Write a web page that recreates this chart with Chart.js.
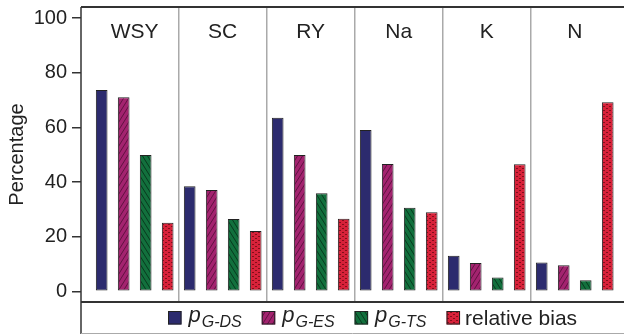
<!DOCTYPE html>
<html>
<head>
<meta charset="utf-8">
<script src="https://cdn.jsdelivr.net/npm/chart.js@4.4.1/dist/chart.umd.min.js"></script>
<style>
  html, body { margin: 0; padding: 0; background: #fff; }
  #wrap { width: 624px; height: 336px; }
</style>
</head>
<body>
<div id="wrap"><canvas id="c" width="624" height="336"></canvas></div>
<script>
// Nutrient / site panels and the four series plotted in each
const categories = ['WSY', 'SC', 'RY', 'Na', 'K', 'N'];
const pGDS = [73.7, 38.5, 63.6, 59.1, 13.0, 10.6];
const pGES = [71.1, 37.1, 49.9, 46.6, 10.4, 9.6];
const pGTS = [49.9, 26.5, 35.9, 30.6, 5.1, 4.1];
const relativeBias = [25.1, 22.1, 26.6, 29.0, 46.5, 69.2];
const yTicks = [0, 20, 40, 60, 80, 100];
const seriesNames = ['pG-DS', 'pG-ES', 'pG-TS', 'relative bias'];
const legendMain = ['p', 'p', 'p', 'relative bias'];
const legendSub = ['G-DS', 'G-ES', 'G-TS', ''];

const FONT = '"Liberation Sans", Arial, Helvetica, sans-serif';

function makePattern(w, h, base, draw) {
  const c = document.createElement('canvas');
  c.width = w; c.height = h;
  const g = c.getContext('2d');
  g.fillStyle = base;
  g.fillRect(0, 0, w, h);
  draw(g);
  return g.createPattern(c, 'repeat');
}

const fillBlue = '#2c2b6e';
// steep "/" hatching
const fillPink = makePattern(5, 8, '#a3236f', g => {
  g.strokeStyle = 'rgba(70,10,45,0.7)';
  g.lineWidth = 1;
  g.beginPath();
  g.moveTo(0, 8); g.lineTo(5, 0);
  g.moveTo(-1, 1.6); g.lineTo(1, -1.6);
  g.moveTo(4, 9.6); g.lineTo(6, 6.4);
  g.stroke();
});
// steep "\" hatching
const fillGreen = makePattern(5, 8, '#12703d', g => {
  g.strokeStyle = 'rgba(5,40,20,0.75)';
  g.lineWidth = 1;
  g.beginPath();
  g.moveTo(0, 0); g.lineTo(5, 8);
  g.moveTo(-1, 6.4); g.lineTo(1, 9.6);
  g.moveTo(4, -1.6); g.lineTo(6, 1.6);
  g.stroke();
});
// brick-like dotted fill
const fillRed = makePattern(6, 4, '#d8223a', g => {
  g.fillStyle = 'rgba(110,10,20,0.8)';
  g.fillRect(0, 0, 2, 1);
  g.fillRect(3, 2, 2, 1);
});
const fills = [fillBlue, fillPink, fillGreen, fillRed];
const seriesValues = [pGDS, pGES, pGTS, relativeBias];

const datasets = seriesValues.map((vals, s) => ({
  label: seriesNames[s],
  data: vals.map((v, i) => ({ x: i, y: v })),
  backgroundColor: fills[s],
  borderColor: '#222',
  borderWidth: 1,
  borderSkipped: false,
  categoryPercentage: 1.0,
  barPercentage: 0.53
}));

// Frame, panel names and the legend strip below the plot
const decor = {
  id: 'decor',
  afterDraw(chart) {
    const ctx = chart.ctx;
    const a = chart.chartArea;
    const xs = chart.scales.x;
    const W = chart.width;
    ctx.save();

    // panel headings
    ctx.fillStyle = '#222';
    ctx.font = '21px ' + FONT;
    ctx.textAlign = 'center';
    ctx.textBaseline = 'alphabetic';
    categories.forEach((c, i) => {
      ctx.fillText(c, xs.getPixelForValue(i), a.top + 31);
    });

    // frame lines
    ctx.strokeStyle = '#333';
    ctx.lineWidth = 2;
    ctx.beginPath();
    ctx.moveTo(a.left, a.top); ctx.lineTo(W, a.top);
    ctx.moveTo(a.left, a.bottom); ctx.lineTo(W, a.bottom);
    ctx.stroke();
    ctx.lineWidth = 1.5;
    ctx.beginPath();
    ctx.moveTo(a.left, a.top); ctx.lineTo(a.left, chart.height - 2);
    ctx.stroke();
    ctx.strokeStyle = '#aaa';
    ctx.lineWidth = 1;
    ctx.beginPath();
    ctx.moveTo(a.left, chart.height - 2.5); ctx.lineTo(W, chart.height - 2.5);
    ctx.stroke();

    // legend
    let x = 168;
    const boxTop = 311, box = 13.5, base = 325;
    for (let s = 0; s < 4; s++) {
      ctx.fillStyle = fills[s];
      ctx.fillRect(x, boxTop, box, box);
      ctx.strokeStyle = '#222';
      ctx.lineWidth = 1;
      ctx.strokeRect(x + 0.5, boxTop + 0.5, box - 1, box - 1);
      x += box;
      ctx.fillStyle = '#222';
      ctx.textAlign = 'left';
      if (legendSub[s]) {
        x += 7;
        ctx.font = 'italic 22px ' + FONT;
        ctx.fillText(legendMain[s], x, base - 3);
        x += ctx.measureText(legendMain[s]).width + 1;
        ctx.font = 'italic 16px ' + FONT;
        ctx.fillText(legendSub[s], x, base + 2);
        x += ctx.measureText(legendSub[s]).width + 20;
      } else {
        x += 5;
        ctx.font = '21px ' + FONT;
        ctx.fillText(legendMain[s], x, base);
      }
    }
    ctx.restore();
  }
};

new Chart(document.getElementById('c'), {
  type: 'bar',
  data: { datasets },
  options: {
    responsive: false,
    animation: false,
    devicePixelRatio: 1,
    layout: { padding: { top: 7, bottom: 34, left: 0, right: 0 } },
    plugins: { legend: { display: false }, tooltip: { enabled: false } },
    scales: {
      x: {
        type: 'linear',
        offset: false,
        min: -0.61,
        max: 5.56,
        afterBuildTicks: s => { s.ticks = [0.5, 1.5, 2.5, 3.5, 4.5].map(v => ({ value: v })); },
        afterFit: s => { s.height = 0; s.paddingLeft = 0; s.paddingRight = 0; },
        ticks: { display: false },
        grid: { color: '#aaa', lineWidth: 1.5, drawTicks: false, offset: false },
        border: { display: false }
      },
      y: {
        min: -3.9,
        max: 104.1,
        afterBuildTicks: s => { s.ticks = yTicks.map(v => ({ value: v })); },
        afterFit: s => { s.width = 81; s.paddingTop = 0; s.paddingBottom = 0; },
        ticks: { color: '#222', font: { family: FONT, size: 20 }, padding: 5 },
        grid: { drawOnChartArea: false, tickLength: 9, color: '#333', lineWidth: 1.5 },
        border: { display: false },
        title: { display: true, text: 'Percentage', color: '#222', font: { family: FONT, size: 20 }, padding: { top: 5, bottom: 0 } }
      }
    }
  },
  plugins: [decor]
});
</script>
</body>
</html>
